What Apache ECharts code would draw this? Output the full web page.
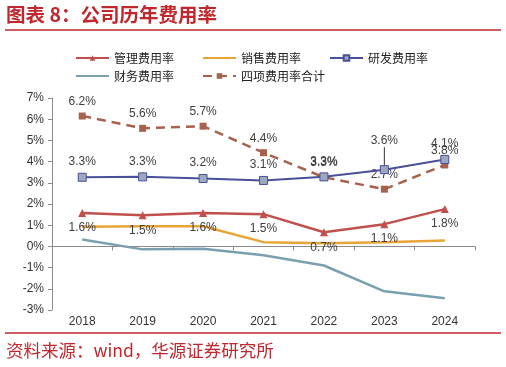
<!DOCTYPE html>
<html>
<head>
<meta charset="utf-8">
<script src="https://cdn.jsdelivr.net/npm/echarts@6/dist/echarts.min.js"></script>
<style>
  html, body { margin: 0; padding: 0; background: #fff; }
  #chart { width: 506px; height: 367px; }
</style>
</head>
<body>
<div id="chart"></div>
<script>
'use strict';

var years = ['2018', '2019', '2020', '2021', '2022', '2023', '2024'];
var yTicks = [-3, -2, -1, 0, 1, 2, 3, 4, 5, 6, 7];

// % of revenue
var mgmt = [1.57, 1.47, 1.58, 1.52, 0.67, 1.05, 1.76];
var sales = [0.93, 0.95, 0.95, 0.2, 0.15, 0.2, 0.28];
var rnd = [3.26, 3.28, 3.2, 3.11, 3.28, 3.62, 4.1];
var finance = [0.33, -0.14, -0.11, -0.42, -0.9, -2.12, -2.45];
var total = [6.15, 5.57, 5.67, 4.42, 3.26, 2.7, 3.84];

var chart = echarts.init(document.getElementById('chart'));

var FONT = '"Liberation Sans", Arial, sans-serif';
var CJK = '"Noto Sans CJK SC", sans-serif';
var RED = '#c0282d';

function pct(p) {
    return p.value.toFixed(1) + '%';
}

var labelBase = {
    show: true,
    color: '#404040',
    fontFamily: FONT,
    fontSize: 12,
    formatter: pct
};

// the 2023 R&D label sits higher, with a pointer line
var rndData = rnd.map(function (v, i) {
    if (i === 5) return { value: v, labelLine: { show: true } };
    return v;
});

var noSymbol = { color: 'rgba(0,0,0,0)', borderWidth: 0 };

var legendCommon = {
    left: 70,
    itemWidth: 33,
    itemHeight: 7,
    itemGap: 28,
    textStyle: { fontFamily: CJK, fontSize: 12, color: '#222' }
};

var options = {
    animation: false,
    textStyle: { fontFamily: FONT },
    graphic: [
        {
            type: 'text', left: 6, top: 5,
            style: { text: '图表 8：公司历年费用率', fill: RED, font: 'bold 19.5px ' + CJK }
        },
        {
            type: 'line',
            shape: { x1: 5, y1: 30, x2: 501, y2: 30 },
            style: { stroke: RED, lineWidth: 1.5 }
        },
        {
            type: 'line',
            shape: { x1: 5, y1: 333, x2: 501, y2: 333 },
            style: { stroke: RED, lineWidth: 1.5 }
        },
        {
            type: 'text', left: 6, top: 342,
            style: { text: '资料来源：wind，华源证券研究所', fill: RED, font: '17.5px ' + CJK }
        }
    ],
    legend: [
        Object.assign({}, legendCommon, {
            top: 47,
            data: ['管理费用率', { name: '销售费用率', itemStyle: noSymbol }, '研发费用率']
        }),
        Object.assign({}, legendCommon, {
            top: 65,
            data: [{ name: '财务费用率', itemStyle: noSymbol }, '四项费用率合计']
        })
    ],
    grid: {
        left: 52,
        right: 31,
        top: 98,
        bottom: 57,
        containLabel: false
    },
    xAxis: {
        type: 'category',
        data: years,
        boundaryGap: true,
        axisLine: { onZero: true, lineStyle: { color: '#8c8c8c' } },
        axisTick: { show: true, length: 4, lineStyle: { color: '#8c8c8c' } },
        axisLabel: { color: '#333', fontSize: 12, margin: 6 }
    },
    yAxis: {
        type: 'value',
        min: yTicks[0],
        max: yTicks[yTicks.length - 1],
        interval: 1,
        splitLine: { show: false },
        axisLine: { show: true, lineStyle: { color: '#8c8c8c' } },
        axisTick: { show: true, length: 4, lineStyle: { color: '#8c8c8c' } },
        axisLabel: {
            color: '#333', fontSize: 12, margin: 8,
            formatter: function (v) { return v + '%'; }
        }
    },
    series: [
        {
            name: '管理费用率',
            type: 'line',
            data: mgmt,
            symbol: 'triangle',
            symbolSize: 8,
            color: '#c0504d',
            lineStyle: { width: 2.5, color: '#c0504d' },
            itemStyle: { color: '#c0504d' },
            label: Object.assign({}, labelBase, { position: 'bottom' }),
            z: 4
        },
        {
            name: '销售费用率',
            type: 'line',
            data: sales,
            symbol: 'none',
            color: '#e6a536',
            lineStyle: { width: 2.5, color: '#e6a536' },
            z: 3
        },
        {
            name: '研发费用率',
            type: 'line',
            data: rndData,
            symbol: 'rect',
            symbolSize: 8,
            color: '#4a4f9a',
            lineStyle: { width: 2, color: '#4a4f9a' },
            itemStyle: { color: '#9aa9bd', borderColor: '#4a4f9a', borderWidth: 1 },
            label: Object.assign({}, labelBase, { position: 'top' }),
            labelLine: { show: false, lineStyle: { color: '#333', width: 1 } },
            labelLayout: function (p) {
                if (p.dataIndex === 5) return { dy: -13 };
            },
            z: 5
        },
        {
            name: '财务费用率',
            type: 'line',
            data: finance,
            symbol: 'none',
            color: '#7aa0b0',
            lineStyle: { width: 2.5, color: '#7aa0b0' },
            z: 2
        },
        {
            name: '四项费用率合计',
            type: 'line',
            data: total,
            symbol: 'rect',
            symbolSize: 7,
            color: '#a8614d',
            lineStyle: { width: 2.5, color: '#a8614d', type: [9, 6] },
            itemStyle: { color: '#a8614d' },
            label: Object.assign({}, labelBase, { position: 'top' }),
            z: 4
        }
    ]
};

chart.setOption(options);
</script>
</body>
</html>
